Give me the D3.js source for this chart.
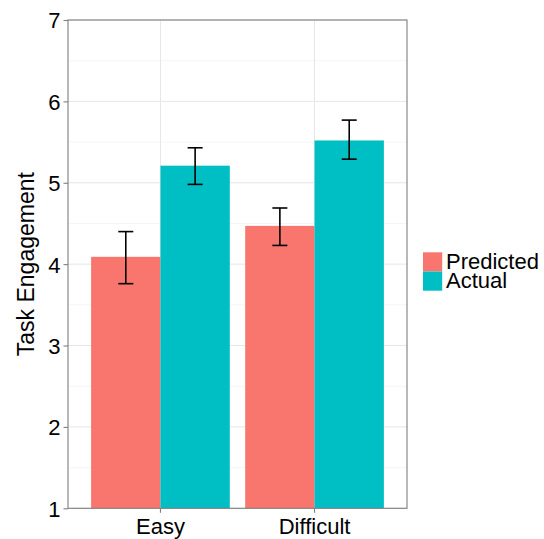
<!DOCTYPE html>
<html><head><meta charset="utf-8">
<script src="https://cdn.jsdelivr.net/npm/d3@7"></script>
<style>body{margin:0;background:#fff}svg{display:block}</style>
</head><body><svg id="c" width="544" height="539"></svg>
<script>
const categories = ["Easy", "Difficult"];
const groups = ["Predicted", "Actual"];
const predictedMean = [4.09, 4.47];
const actualMean = [5.21, 5.52];
const predictedLow = [3.76, 4.23];
const predictedHigh = [4.40, 4.69];
const actualLow = [4.98, 5.29];
const actualHigh = [5.43, 5.77];
const yTicks = [1, 2, 3, 4, 5, 6, 7];
const colors = ["#F8766D", "#00BFC4"];

const rows = [];
categories.forEach((c, i) => {
  rows.push({cat: c, grp: "Predicted", v: predictedMean[i], lo: predictedLow[i], hi: predictedHigh[i]});
  rows.push({cat: c, grp: "Actual", v: actualMean[i], lo: actualLow[i], hi: actualHigh[i]});
});

const svg = d3.select("#c");
const L = 68, R = 407, T = 20, B = 508.3;
const font = "'Liberation Sans', Arial, sans-serif";

const y = d3.scaleLinear().domain([1, 7]).range([B, T]);
const unit = (R - L) / 2.2;
const xc = d => L + (0.6 + categories.indexOf(d)) * unit;
const x1 = d3.scaleBand().domain(groups).range([-0.45 * unit, 0.45 * unit]).padding(0);

const g = svg.append("g");
const minor = d3.range(1.5, 7, 1);
g.selectAll(".mn").data(minor).join("line")
  .attr("x1", L).attr("x2", R).attr("y1", d => y(d)).attr("y2", d => y(d))
  .attr("stroke", "#f2f2f2").attr("stroke-width", 0.8);
g.selectAll(".mj").data(yTicks).join("line")
  .attr("x1", L).attr("x2", R).attr("y1", d => y(d)).attr("y2", d => y(d))
  .attr("stroke", "#e6e6e6").attr("stroke-width", 1);
g.selectAll(".vx").data(categories).join("line")
  .attr("x1", d => xc(d)).attr("x2", d => xc(d)).attr("y1", T).attr("y2", B)
  .attr("stroke", "#e6e6e6").attr("stroke-width", 1);

g.selectAll(".bar").data(rows).join("rect")
  .attr("x", d => xc(d.cat) + x1(d.grp))
  .attr("width", x1.bandwidth())
  .attr("y", d => y(d.v))
  .attr("height", d => y(1) - y(d.v))
  .attr("fill", d => colors[groups.indexOf(d.grp)]);

const cap = 7.5;
const eb = g.selectAll(".eb").data(rows).join("g")
  .attr("stroke", "#000").attr("stroke-width", 1.6);
const cx = d => xc(d.cat) + x1(d.grp) + x1.bandwidth() / 2;
eb.append("line").attr("x1", cx).attr("x2", cx)
  .attr("y1", d => y(d.lo)).attr("y2", d => y(d.hi));
eb.append("line").attr("x1", d => cx(d) - cap).attr("x2", d => cx(d) + cap)
  .attr("y1", d => y(d.hi)).attr("y2", d => y(d.hi));
eb.append("line").attr("x1", d => cx(d) - cap).attr("x2", d => cx(d) + cap)
  .attr("y1", d => y(d.lo)).attr("y2", d => y(d.lo));

svg.append("rect").attr("x", L).attr("y", T).attr("width", R - L).attr("height", B - T)
  .attr("fill", "none").attr("stroke", "#7f7f7f").attr("stroke-width", 1.1);

const yAxis = svg.append("g").attr("transform", `translate(${L},0)`)
  .call(d3.axisLeft(y).tickValues(yTicks).tickSize(4.5).tickPadding(3).tickFormat(d3.format("d")));
yAxis.select(".domain").remove();
yAxis.selectAll(".tick line").attr("stroke", "#7f7f7f").attr("stroke-width", 1.1);
yAxis.selectAll("text").attr("fill", "#000").style("font-family", font).style("font-size", "22px").attr("dy", "0.36em");

const xAxis = svg.append("g").attr("transform", `translate(0,${B})`);
xAxis.selectAll("line").data(categories).join("line")
  .attr("x1", d => xc(d)).attr("x2", d => xc(d)).attr("y1", 0).attr("y2", 4.5)
  .attr("stroke", "#7f7f7f").attr("stroke-width", 1.1);
xAxis.selectAll("text").data(categories).join("text")
  .attr("x", d => xc(d)).attr("y", 26).attr("text-anchor", "middle")
  .style("font-family", font).style("font-size", "22px").attr("fill", "#000").text(d => d);

svg.append("text").attr("transform", `translate(34,${(T + B) / 2}) rotate(-90)`)
  .attr("text-anchor", "middle").style("font-family", font).style("font-size", "23px")
  .attr("fill", "#000").text("Task Engagement");

const lg = svg.append("g").attr("transform", "translate(423,252.3)");
groups.forEach((gname, i) => {
  lg.append("rect").attr("x", 0).attr("y", i * 19.2).attr("width", 19.2).attr("height", 19.2)
    .attr("fill", colors[i]);
  lg.append("text").attr("x", 23).attr("y", i * 19.2 + 17)
    .style("font-family", font).style("font-size", "22px").attr("fill", "#000").text(gname);
});
</script></body></html>
